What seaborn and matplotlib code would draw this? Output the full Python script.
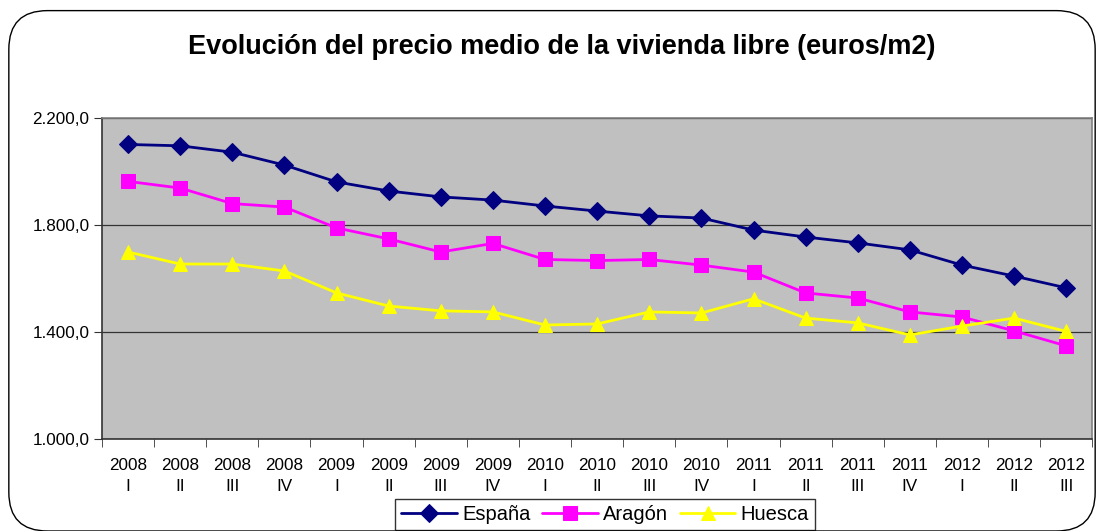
import numpy as np
import pandas as pd
import matplotlib
matplotlib.use("Agg")
import matplotlib.pyplot as plt
import seaborn as sns
from matplotlib.patches import FancyBboxPatch
from matplotlib.ticker import FuncFormatter, FixedLocator

# datos (euros/m2)
periodos = ["2008\nI", "2008\nII", "2008\nIII", "2008\nIV",
            "2009\nI", "2009\nII", "2009\nIII", "2009\nIV",
            "2010\nI", "2010\nII", "2010\nIII", "2010\nIV",
            "2011\nI", "2011\nII", "2011\nIII", "2011\nIV",
            "2012\nI", "2012\nII", "2012\nIII"]
espana = [2101, 2096, 2072, 2024, 1961, 1927, 1905, 1893, 1871, 1852,
          1834, 1826, 1781, 1755, 1733, 1707, 1650, 1609, 1565]
aragon = [1963, 1938, 1880, 1867, 1789, 1748, 1699, 1731, 1671, 1667,
          1671, 1650, 1624, 1546, 1527, 1475, 1456, 1404, 1348]
huesca = [1699, 1654, 1654, 1628, 1546, 1497, 1479, 1475, 1426, 1430,
          1475, 1471, 1524, 1452, 1434, 1389, 1422, 1452, 1402]

sns.set_style("white")
plt.rcParams['font.family'] = ['Liberation Sans', 'DejaVu Sans']
plt.rcParams['text.color'] = 'black'
plt.rcParams['xtick.labelcolor'] = 'black'
plt.rcParams['ytick.labelcolor'] = 'black'

fig = plt.figure(figsize=(11.04, 5.31), dpi=100)
ax = fig.add_axes([0.0924, 0.1733, 0.897, 0.6045])
ax.set_facecolor("#C0C0C0")

# marco redondeado exterior
fig.patches.append(FancyBboxPatch((0.008, 0.0), 0.984, 0.98,
                                  boxstyle="round,pad=0,rounding_size=0.035",
                                  transform=fig.transFigure, fill=False,
                                  edgecolor="black", linewidth=1.0,
                                  mutation_aspect=1104 / 531))

x = np.arange(len(periodos))
series = [("España", espana, "#000080", "D", 9.5),
          ("Aragón", aragon, "#FF00FF", "s", 10),
          ("Huesca", huesca, "#FFFF00", "^", 10.5)]
for nombre, vals, color, mk, ms in series:
    sns.lineplot(x=x, y=vals, ax=ax, color=color, marker=mk, markersize=ms,
                 markeredgecolor=color, linewidth=2, label=nombre)

ax.set_xlim(-0.5, len(periodos) - 0.5)
ax.set_ylim(1000, 2200)
ax.set_yticks([1000, 1400, 1800, 2200])
ax.yaxis.set_major_formatter(FuncFormatter(
    lambda v, p: f"{v:,.1f}".replace(",", "X").replace(".", ",").replace("X", ".")))
ax.grid(axis="y", color="#333333", linewidth=0.9)
ax.set_axisbelow(True)

ax.set_xticks(x)
ax.set_xticklabels(periodos, fontsize=12.3, linespacing=1.45)
ax.xaxis.set_minor_locator(FixedLocator(np.arange(-0.5, len(periodos), 1)))
ax.tick_params(axis="x", which="major", length=0, pad=14)
ax.tick_params(axis="x", which="minor", length=6, direction="out", color="#333333", bottom=True)
ax.tick_params(axis="y", length=6, direction="out", color="#333333", left=True, labelsize=12.3, pad=3)

for s in ["left", "bottom"]:
    ax.spines[s].set_color("#333333")
    ax.spines[s].set_linewidth(1.2)
for s in ["top", "right"]:
    ax.spines[s].set_color("#808080")
    ax.spines[s].set_linewidth(1.2)

fig.text(0.509, 0.912, "Evolución del precio medio de la vivienda libre (euros/m2)",
         ha="center", va="center", fontsize=19.5, fontweight="bold", color="black")

leg = ax.legend(loc="upper center", bbox_to_anchor=(0.508, -0.187), ncol=3,
                frameon=True, fancybox=False, edgecolor="black", fontsize=14.5,
                handlelength=2.75, handletextpad=0.25, columnspacing=0.6,
                borderpad=0.3, borderaxespad=0)
leg.get_frame().set_linewidth(1.0)
for t in leg.get_texts():
    t.set_color("black")

fig.savefig("out.png", dpi=100)
